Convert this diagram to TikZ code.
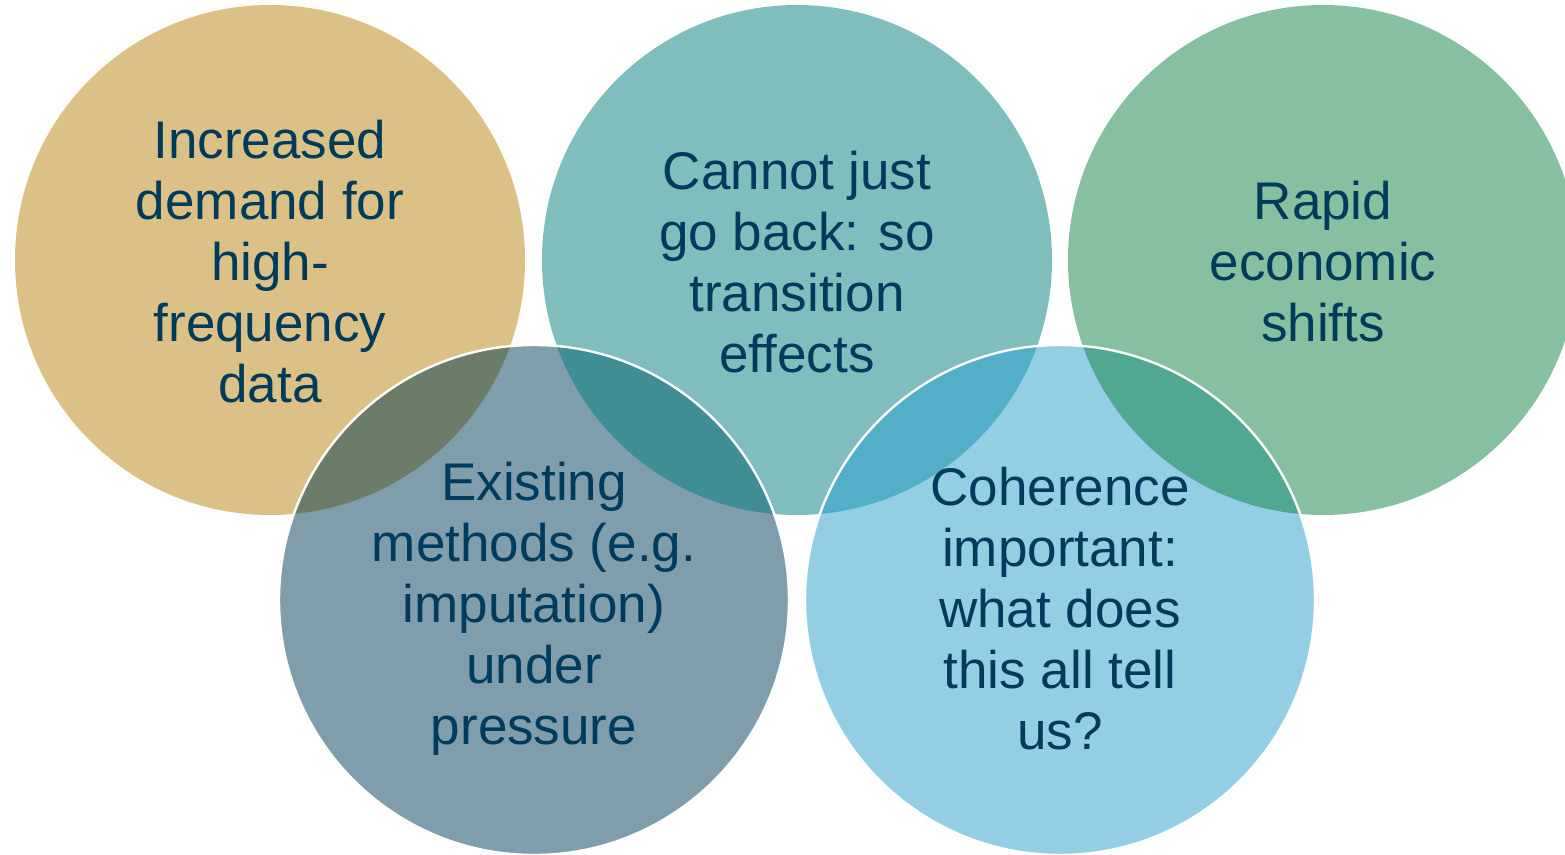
\documentclass[tikz,border=0pt]{standalone}
\usepackage{fontspec}
\setmainfont{Liberation Sans}
\definecolor{cgold}{RGB}{220,193,135}
\definecolor{cteal}{RGB}{128,189,189}
\definecolor{cgreen}{RGB}{135,192,160}
\definecolor{cslate}{RGB}{127,157,170}
\definecolor{cblue}{RGB}{148,206,228}
\definecolor{lgs}{RGB}{107,124,105}
\definecolor{lts}{RGB}{62,142,148}
\definecolor{ltb}{RGB}{82,175,199}
\definecolor{lgb}{RGB}{80,168,146}
\definecolor{navy}{RGB}{0,59,92}
\tikzset{
  txt/.style={font=\fontsize{26.5pt}{30.5pt}\selectfont, text=navy, align=center, inner sep=0pt},
  rim/.style={draw=white, line width=1.2pt}
}
\begin{document}
\begin{tikzpicture}[x=0.5pt,y=-0.5pt]
\useasboundingbox (0,0) rectangle (1565,855);
\clip (0,0) rectangle (1565,855);
% top row
\fill[cgold]  (270,260) circle[radius=127.5pt];
\fill[cteal]  (797,260) circle[radius=127.5pt];
\fill[cgreen] (1323,260) circle[radius=127.5pt];
% bottom row
\fill[cslate] (534,600) circle[radius=127.5pt];
\fill[cblue]  (1060,600) circle[radius=127.5pt];
% overlaps
\begin{scope}
  \clip (270,260) circle[radius=127.5pt];
  \fill[lgs] (534,600) circle[radius=127.5pt];
\end{scope}
\begin{scope}
  \clip (797,260) circle[radius=127.5pt];
  \fill[lts] (534,600) circle[radius=127.5pt];
  \fill[ltb] (1060,600) circle[radius=127.5pt];
\end{scope}
\begin{scope}
  \clip (1323,260) circle[radius=127.5pt];
  \fill[lgb] (1060,600) circle[radius=127.5pt];
\end{scope}
\draw[rim] (534,600) circle[radius=127.5pt];
\draw[rim] (1060,600) circle[radius=127.5pt];
% texts
\node[txt] (t1) at (270,262) {Increased\\demand for\\high-\\frequency\\data};
\node[txt] (t2) at (797,262) {Cannot just\\go back: so\\transition\\effects};
\node[txt] (t3) at (1323,262) {Rapid\\economic\\shifts};
\node[txt] (t4) at (534,609) {Existing\\methods (e.g.\\imputation)\\under\\pressure};
\node[txt] (t5) at (1060,609) {Coherence\\important:\\what does\\this all tell\\us?};
\end{tikzpicture}
\end{document}
